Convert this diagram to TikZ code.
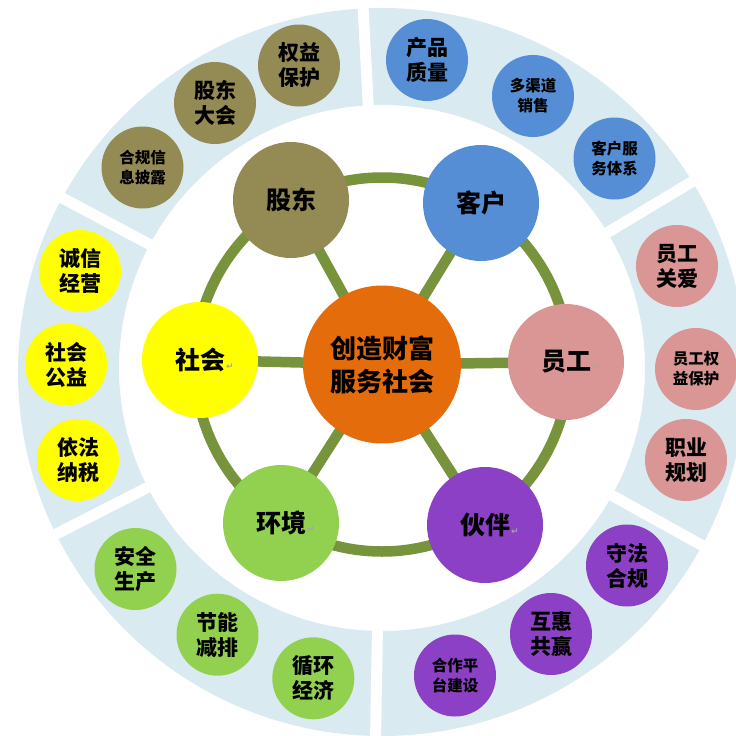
\documentclass[tikz,border=0pt]{standalone}
\usepackage{fontspec}
\setmainfont{Noto Sans CJK SC}
\newfontfamily\symf{DejaVu Sans}
\definecolor{ringblue}{HTML}{DAEAF1}
\definecolor{linkgreen}{HTML}{77933C}
\definecolor{tanc}{HTML}{948A54}
\definecolor{bluec}{HTML}{558ED5}
\definecolor{pinkc}{HTML}{D99694}
\definecolor{purplec}{HTML}{8C40C6}
\definecolor{greenc}{HTML}{92D050}
\definecolor{yellowc}{HTML}{FFFF00}
\definecolor{orangec}{HTML}{E46C0A}
\newcommand{\retmark}{\rlap{\kern1pt\symf\fontsize{9}{9}\selectfont\color{black!35}↵}}
\pgfdeclarelayer{ringlayer}
\pgfdeclarelayer{linklayer}
\pgfsetlayers{ringlayer,linklayer,main}
\begin{document}
\begin{tikzpicture}[x=1pt,y=-1pt,
  big/.style={circle, minimum size=116pt, inner sep=0pt, font=\bfseries\fontsize{25}{30}\selectfont},
  small/.style={circle, minimum size=82pt, inner sep=0pt, align=center, font=\bfseries\fontsize{21}{25}\selectfont},
  tiny/.style={small, font=\bfseries\fontsize{15.5}{20}\selectfont},
  link/.style={draw=linkgreen, line width=10.5pt}]

\useasboundingbox (0,0) rectangle (736,736);

% centre and satellites
\node[circle, minimum size=158pt, inner sep=0pt, fill=orangec, align=center,
      font=\bfseries\fontsize{26}{33}\selectfont] (core) at (382,364.5) {创造财富\\服务社会};
\node[big, fill=tanc]    (gd) at (291,200) {股东};
\node[big, fill=bluec]   (kh) at (481,203) {客户};
\node[big, fill=pinkc]   (yg) at (566,362) {员工\retmark};
\node[big, fill=purplec] (hb) at (485,525) {伙伴\retmark};
\node[big, fill=greenc]  (hj) at (281,523) {环境\retmark};
\node[big, fill=yellowc] (sh) at (200,360) {社会\retmark};

% outer circles
\node[small, fill=tanc] (qy)   at (299,65.5)  {权益\\保护};
\node[small, fill=tanc] (gddh) at (215,103)   {股东\\大会};
\node[tiny,  fill=tanc] (hgxx) at (142.5,167.5) {合规信\\息披露};

\node[small, fill=bluec] (cpzl) at (427,60)    {产品\\质量};
\node[tiny,  fill=bluec] (dqd)  at (533,96)    {多渠道\\销售};
\node[tiny,  fill=bluec] (khfw) at (614.5,158.5) {客户服\\务体系};

\node[small, fill=pinkc] (ygga) at (677,266)   {员工\\关爱};
\node[tiny,  fill=pinkc] (ygqy) at (696,369)   {员工权\\益保护};
\node[small, fill=pinkc] (zygh) at (686,460)   {职业\\规划};

\node[small, fill=purplec] (sfhg) at (627,565.5) {守法\\合规};
\node[small, fill=purplec] (hhgy) at (551,634)   {互惠\\共赢};
\node[tiny,  fill=purplec] (hzpt) at (455,675.5) {合作平\\台建设};

\node[small, fill=greenc] (aqsc) at (135.5,569)   {安全\\生产};
\node[small, fill=greenc] (jnjp) at (217.5,634.7) {节能\\减排};
\node[small, fill=greenc] (xhjj) at (313.3,678.3) {循环\\经济};

\node[small, fill=yellowc] (cxjy) at (80,271)    {诚信\\经营};
\node[small, fill=yellowc] (shgy) at (66,364.5)  {社会\\公益};
\node[small, fill=yellowc] (yfns) at (78,460)    {依法\\纳税};

% ring of sectors
\begin{pgfonlayer}{ringlayer}
  \fill[white] (0,0) rectangle (736,736);
  \begin{scope}
    \clip (0,0) rectangle (736,736);
    \fill[ringblue, even odd rule] (382,372) circle[radius=364] (382,368) circle[radius=263];
    \foreach \a in {93,31,-29,-91,207,152}
      \draw[white, line width=11pt] (382,368) -- ++(\a:400pt);
  \end{scope}
\end{pgfonlayer}

% green links
\begin{pgfonlayer}{linklayer}
  \draw[link] (core.center) circle[radius=187];
  \foreach \s in {gd,kh,yg,hb,hj,sh}
    \draw[link] (core.center) -- (\s.center);
\end{pgfonlayer}
\end{tikzpicture}
\end{document}
